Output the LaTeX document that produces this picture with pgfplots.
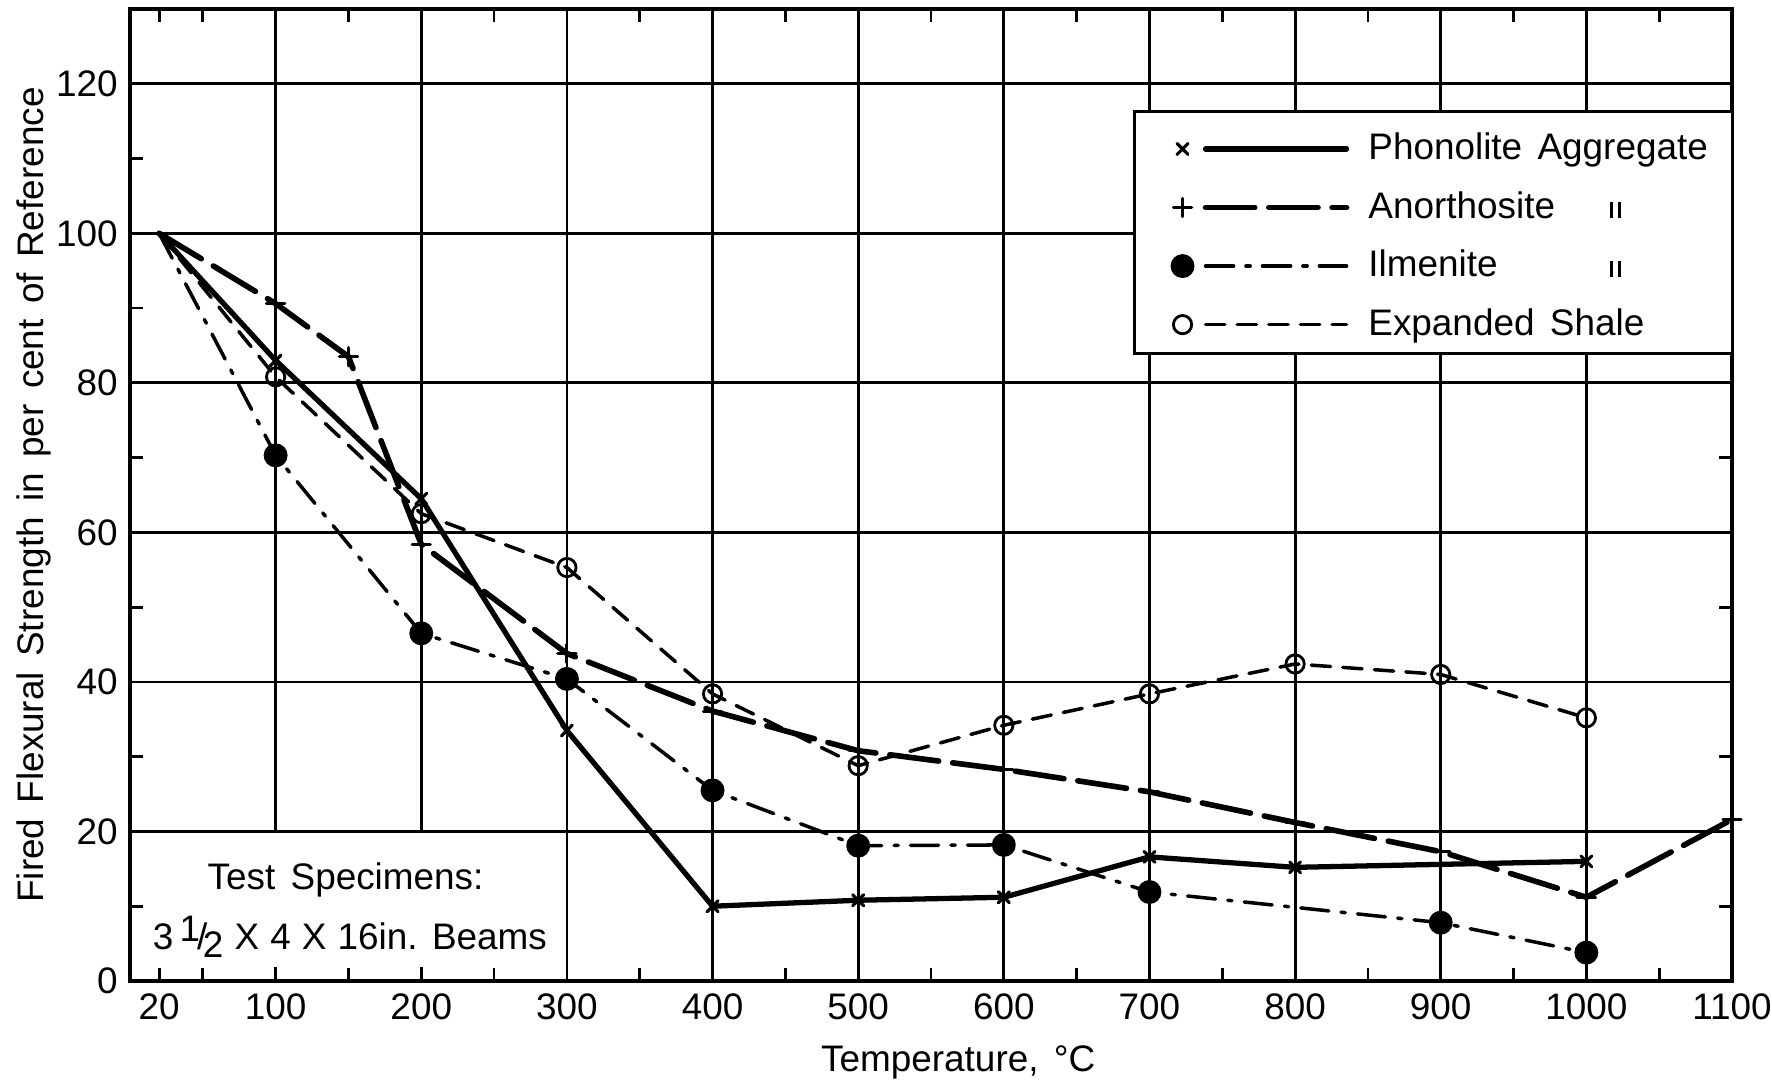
\documentclass[border=0pt]{standalone}
\usepackage{fontspec}
\setmainfont[WordSpace=1.5]{Liberation Sans}
\usepackage{pgfplots}
\pgfplotsset{compat=1.18}

\newcommand{\chartfont}{\fontsize{10.5}{12.6}\selectfont}
\newcommand{\ditto}{\rule{0.7pt}{4.5pt}\hspace{1.6pt}\rule{0.7pt}{4.5pt}}

\pgfplotsset{
  legimg/.style={legend image code/.code={
      \draw[##1, mark repeat=1, mark phase=1] plot coordinates {(0cm,0cm)};
      \draw[##1, mark=none] (0.23cm,0cm) -- (1.64cm,0cm);
  }},
}

\begin{document}
\begin{tikzpicture}
\begin{axis}[
  scale only axis, width=16.02cm, height=9.72cm,
  xmin=0, xmax=1100, ymin=0, ymax=130,
  xtick={100,200,...,1100}, extra x ticks={20}, extra x tick style={grid=none},
  minor xtick={50,150,...,1050},
  ytick={0,20,...,120}, minor ytick={10,30,...,110},
  grid=major, major grid style={black, line width=0.8pt},
  axis line style={line width=1.1pt},
  tick style={black, line width=0.8pt},
  major tick length=0.13cm, minor tick length=0.13cm,
  tick align=inside,
  /pgf/number format/1000 sep={}, /pgf/number format/assume math mode=true,
  tick label style={font=\chartfont},
  label style={font=\chartfont},
  xlabel={Temperature, °C},
  ylabel={Fired Flexural Strength in per cent of Reference},
  xlabel style={at={(axis description cs:0.517,-0.0833)}, anchor=center},
  ylabel style={at={(axis description cs:-0.06,0.5)}, anchor=center},
  clip=false,
  legend cell align=left,
  legend style={draw=none, fill=none, at={(axis cs:708,115.4)}, anchor=north west,
    font=\chartfont, row sep=0.125cm},
  every axis plot/.append style={line cap=round, line join=round, mark phase=2, mark repeat=1},
]
% white areas (legend box and specimen note)
\fill[white] ([shift={(0.14cm,0.14cm)}]axis cs:0,0) rectangle ([shift={(0cm,-0.45pt)}]axis cs:290,20);
\draw[fill=white, line width=0.8pt] (axis cs:690,116.3) rectangle (axis cs:1100,83.9);
\node[font=\chartfont] at (axis cs:148,13.5) {Test Specimens:};
\node[font=\chartfont] at (axis cs:151,5.9) {\spaceskip=0.3em 3\,\raisebox{0.4ex}{1}\kern-0.08em/\kern-0.12em\raisebox{-0.45ex}{2} X 4 X 16in. Beams};

\addplot[black, line width=1.5pt, mark=x, mark size=2.2pt, mark options={line width=0.9pt, solid}, legimg]
  coordinates {(20,100) (100,83) (200,64.5) (300,33.5) (400,10) (500,10.8) (600,11.2) (700,16.6) (800,15.2) (1000,16)};
\addlegendentry{\hspace{0.12cm}Phonolite Aggregate}
\addplot[black, line width=1.6pt, dash pattern=on 14pt off 4pt, mark=+, mark size=2.6pt, mark options={line width=0.9pt, solid}, legimg]
  coordinates {(20,100) (100,90.6) (150,83.5) (200,58.4) (300,43.8) (400,36.1) (500,30.8) (600,28.3) (700,25.3) (800,21.2) (900,17.3) (1000,11.2) (1100,21.6)};
\addlegendentry{\hspace{0.12cm}\makebox[2.42cm][l]{Anorthosite}\ditto}
\addplot[black, line width=1.0pt, dash pattern=on 8pt off 3.5pt on 1.2pt off 3.5pt, mark=*, mark size=2.9pt, mark options={solid, fill=black}, legimg]
  coordinates {(20,100) (100,70.3) (200,46.5) (300,40.4) (400,25.5) (500,18.1) (600,18.2) (700,11.9) (900,7.8) (1000,3.8)};
\addlegendentry{\hspace{0.12cm}\makebox[2.42cm][l]{Ilmenite}\ditto}
\addplot[black, line width=1.0pt, dash pattern=on 5.5pt off 3.5pt, mark=o, mark size=2.6pt, mark options={solid, line width=0.8pt, fill=white}, legimg]
  coordinates {(20,100) (100,80.8) (200,62.5) (300,55.3) (400,38.4) (500,28.8) (600,34.2) (700,38.4) (800,42.4) (900,41) (1000,35.2)};
\addlegendentry{\hspace{0.12cm}Expanded Shale}
\end{axis}
\pgfresetboundingbox
\path[use as bounding box] ([shift={(-1.30cm,-1.07cm)}]current axis.south west) rectangle ([shift={(0.40cm,0.09cm)}]current axis.north east);
\end{tikzpicture}
\end{document}
